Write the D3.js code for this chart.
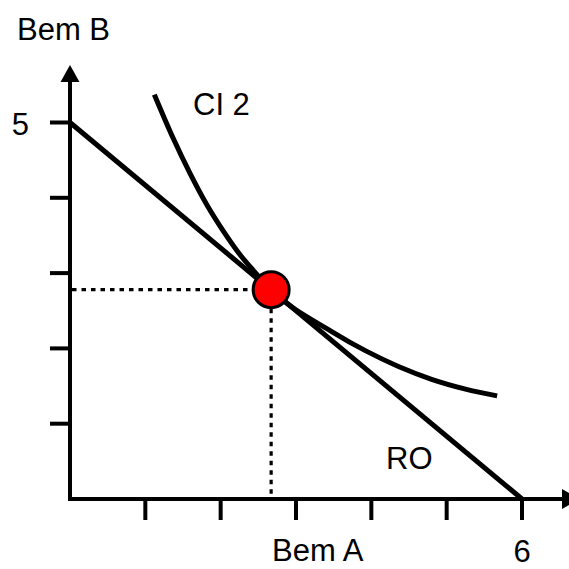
<!DOCTYPE html>
<html>
<head>
<meta charset="utf-8">
<script src="https://cdn.jsdelivr.net/npm/d3@7"></script>
<style>
  html, body { margin: 0; padding: 0; background: #fff; }
  svg { display: block; }
  text { font-family: "Liberation Sans", Arial, Helvetica, sans-serif; fill: #000; }
</style>
</head>
<body>
<svg id="chart" width="569" height="569"></svg>
<script>
// ---- data ----
const xTickValues = [1, 2, 3, 4, 5, 6];
const yTickValues = [1, 2, 3, 4, 5];
const xTickLabels = { 6: "6" };
const yTickLabels = { 5: "5" };
const budgetA = [0, 6];      // RO: Bem A intercepts
const budgetB = [5, 0];      // RO: Bem B intercepts
const icA = [1.12, 1.37, 1.59, 1.82, 2.04, 2.26, 2.43, 2.67, 3.48, 3.92, 4.36, 4.80, 5.25, 5.67];
const icB = [5.37, 4.79, 4.33, 3.90, 3.55, 3.24, 3.04, 2.78, 2.22, 1.97, 1.76, 1.59, 1.46, 1.37];
const optimumA = [2.67];
const optimumB = [2.78];
const labels = { xAxis: "Bem A", yAxis: "Bem B", curve: "CI 2", budget: "RO" };

// ---- drawing ----
const svg = d3.select("#chart");
const x = d3.scaleLinear().domain([0, 6]).range([70, 522]);
const y = d3.scaleLinear().domain([0, 5]).range([499, 122.5]);

const FONT = 31;

// dotted guide lines
svg.append("line")
  .attr("x1", x(0) + 2).attr("x2", x(optimumA[0]))
  .attr("y1", y(optimumB[0])).attr("y2", y(optimumB[0]))
  .attr("stroke", "#000").attr("stroke-width", 3.2)
  .attr("stroke-dasharray", "4.5,5");
svg.append("line")
  .attr("x1", x(optimumA[0])).attr("x2", x(optimumA[0]))
  .attr("y1", y(optimumB[0])).attr("y2", y(0) - 2)
  .attr("stroke", "#000").attr("stroke-width", 3.2)
  .attr("stroke-dasharray", "4.5,5");

// axes
const axisG = svg.append("g");
axisG.append("line")
  .attr("x1", x(0)).attr("x2", 563)
  .attr("y1", y(0)).attr("y2", y(0))
  .attr("stroke", "#000").attr("stroke-width", 4);
axisG.append("line")
  .attr("x1", x(0)).attr("x2", x(0))
  .attr("y1", y(0) + 2).attr("y2", 80)
  .attr("stroke", "#000").attr("stroke-width", 4);
// arrow heads
axisG.append("path")
  .attr("d", `M${x(0) - 9.5},82 L${x(0)},65 L${x(0) + 9.5},82 Z`)
  .attr("fill", "#000");
axisG.append("path")
  .attr("d", `M562,${y(0) - 10} L580,${y(0)} L562,${y(0) + 10} Z`)
  .attr("fill", "#000");

// ticks
axisG.selectAll(".xt").data(xTickValues).enter().append("line")
  .attr("x1", d => x(d)).attr("x2", d => x(d))
  .attr("y1", y(0)).attr("y2", y(0) + 21)
  .attr("stroke", "#000").attr("stroke-width", 4);
axisG.selectAll(".yt").data(yTickValues).enter().append("line")
  .attr("x1", x(0) - 20).attr("x2", x(0))
  .attr("y1", d => y(d)).attr("y2", d => y(d))
  .attr("stroke", "#000").attr("stroke-width", 4);

// tick labels
axisG.selectAll(".xl").data(xTickValues.filter(d => xTickLabels[d])).enter().append("text")
  .attr("x", d => x(d)).attr("y", 562)
  .attr("text-anchor", "middle").attr("font-size", FONT)
  .text(d => xTickLabels[d]);
axisG.selectAll(".yl").data(yTickValues.filter(d => yTickLabels[d])).enter().append("text")
  .attr("x", x(0) - 41).attr("y", d => y(d) + 12.5)
  .attr("text-anchor", "end").attr("font-size", FONT)
  .text(d => yTickLabels[d]);

// axis titles
svg.append("text").attr("x", 17).attr("y", 40).attr("font-size", FONT).text(labels.yAxis);
svg.append("text").attr("x", 272).attr("y", 561).attr("font-size", FONT).text(labels.xAxis);

// budget line
const budgetPts = budgetA.map((a, i) => [a, budgetB[i]]);
svg.append("path")
  .datum(budgetPts)
  .attr("d", d3.line().x(d => x(d[0])).y(d => y(d[1])))
  .attr("fill", "none").attr("stroke", "#000").attr("stroke-width", 5);

// indifference curve
const icPts = icA.map((a, i) => [a, icB[i]]);
svg.append("path")
  .datum(icPts)
  .attr("d", d3.line().x(d => x(d[0])).y(d => y(d[1])).curve(d3.curveMonotoneX))
  .attr("fill", "none").attr("stroke", "#000").attr("stroke-width", 5);

// curve labels
svg.append("text").attr("x", 193).attr("y", 115).attr("font-size", FONT).text(labels.curve);
svg.append("text").attr("x", 386).attr("y", 469).attr("font-size", FONT).text(labels.budget);

// optimum point
svg.selectAll(".opt").data(optimumA.map((a, i) => [a, optimumB[i]])).enter().append("circle")
  .attr("cx", d => x(d[0])).attr("cy", d => y(d[1]))
  .attr("r", 18)
  .attr("fill", "#ff0000").attr("stroke", "#000").attr("stroke-width", 3);
</script>
</body>
</html>
